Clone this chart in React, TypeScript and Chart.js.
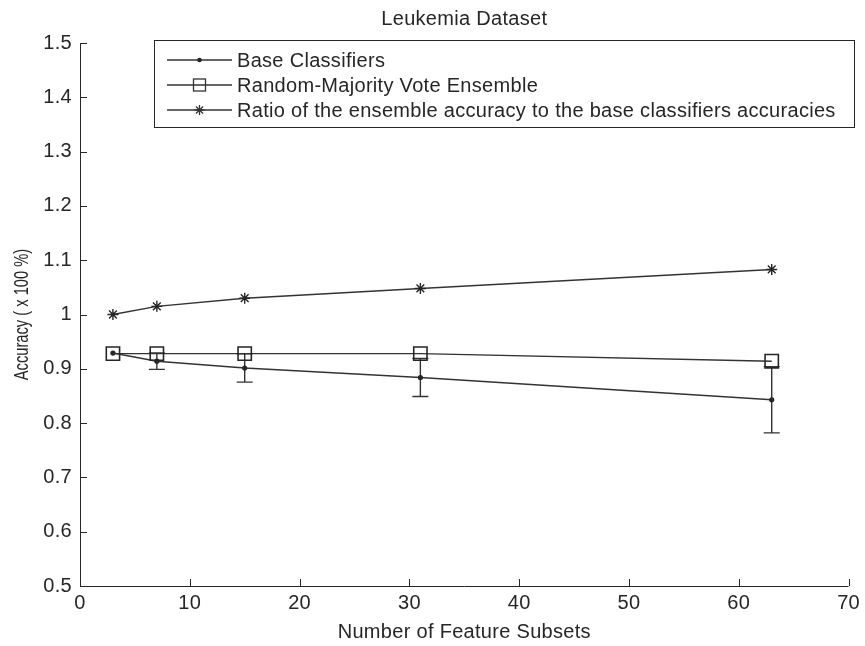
import React, { useEffect, useRef } from 'react';
import { Chart, registerables } from 'chart.js';

Chart.register(...registerables);

// ---------- data ----------
const featureSubsets = [3, 7, 15, 31, 63];
const baseAccuracy = [0.929, 0.914, 0.9015, 0.884, 0.843];
const baseError = [0, 0.015, 0.026, 0.035, 0.061];
const ensembleAccuracy = [0.928, 0.928, 0.928, 0.928, 0.914];
const ratioAccuracy = [1.0, 1.015, 1.03, 1.048, 1.083];
const xTickValues = [0, 10, 20, 30, 40, 50, 60, 70];
const yTickValues = [0.5, 0.6, 0.7, 0.8, 0.9, 1.0, 1.1, 1.2, 1.3, 1.4, 1.5];
const seriesNames = [
  'Base Classifiers',
  'Random-Majority Vote Ensemble',
  'Ratio of the ensemble accuracy to the base classifiers accuracies',
];
const chartTitle = 'Leukemia Dataset';
const xAxisTitle = 'Number of Feature Subsets';
const yAxisTitle = 'Accuracy ( x 100 %)';

// ---------- style ----------
const INK = '#262626';
const LINE = '#333333';
const FONT_FAMILY = '"Liberation Sans", Arial, sans-serif';
const FONT_SIZE = 20;
const SPACING = '0.3px';

function drawStar(ctx: CanvasRenderingContext2D, x: number, y: number, r: number) {
  ctx.beginPath();
  for (let i = 0; i < 4; i++) {
    const a = (i * Math.PI) / 4;
    ctx.moveTo(x - r * Math.cos(a), y - r * Math.sin(a));
    ctx.lineTo(x + r * Math.cos(a), y + r * Math.sin(a));
  }
  ctx.stroke();
}

const decorPlugin = {
  id: 'matlabDecor',
  beforeUpdate(chart: any) {
    (chart.ctx as any).letterSpacing = SPACING;
  },
  beforeDraw(chart: any) {
    const ctx = chart.ctx as CanvasRenderingContext2D;
    (ctx as any).letterSpacing = SPACING;
    ctx.save();
    ctx.fillStyle = '#ffffff';
    ctx.fillRect(0, 0, chart.width, chart.height);
    ctx.restore();
  },
  beforeDatasetsDraw(chart: any) {
    const ctx = chart.ctx as CanvasRenderingContext2D;
    const xs = chart.scales.x;
    const ys = chart.scales.y;
    ctx.save();
    ctx.strokeStyle = LINE;
    ctx.lineWidth = 1.4;
    featureSubsets.forEach((fx, i) => {
      const e = baseError[i];
      if (!e) return;
      const px = xs.getPixelForValue(fx);
      const top = ys.getPixelForValue(baseAccuracy[i] + e);
      const bot = ys.getPixelForValue(baseAccuracy[i] - e);
      ctx.beginPath();
      ctx.moveTo(px, top);
      ctx.lineTo(px, bot);
      ctx.moveTo(px - 8, top);
      ctx.lineTo(px + 8, top);
      ctx.moveTo(px - 8, bot);
      ctx.lineTo(px + 8, bot);
      ctx.stroke();
    });
    ctx.restore();
  },
  afterDraw(chart: any) {
    const ctx = chart.ctx as CanvasRenderingContext2D;
    const { left, right, top, bottom } = chart.chartArea;
    const xs = chart.scales.x;
    const ys = chart.scales.y;
    ctx.save();
    // axes
    ctx.strokeStyle = INK;
    ctx.lineWidth = 1;
    ctx.beginPath();
    ctx.moveTo(Math.round(left) + 0.5, top);
    ctx.lineTo(Math.round(left) + 0.5, Math.round(bottom) + 0.5);
    ctx.lineTo(right, Math.round(bottom) + 0.5);
    ctx.stroke();
    // inward ticks
    ctx.beginPath();
    xTickValues.forEach((v) => {
      const px = Math.round(xs.getPixelForValue(v)) + 0.5;
      ctx.moveTo(px, bottom);
      ctx.lineTo(px, bottom - 7);
    });
    yTickValues.forEach((v) => {
      const py = Math.round(ys.getPixelForValue(v)) + 0.5;
      ctx.moveTo(left, py);
      ctx.lineTo(left + 7, py);
    });
    ctx.stroke();

    // titles
    ctx.fillStyle = INK;
    ctx.font = `${FONT_SIZE}px ${FONT_FAMILY}`;
    (ctx as any).letterSpacing = SPACING;
    ctx.textAlign = 'center';
    ctx.textBaseline = 'middle';
    const cx = (left + right) / 2;
    ctx.fillText(chartTitle, cx, 19);
    ctx.fillText(xAxisTitle, cx, bottom + 46);
    ctx.save();
    (ctx as any).letterSpacing = '0px';
    ctx.font = `14.7px ${FONT_FAMILY}`;
    ctx.translate(23, (top + bottom) / 2);
    ctx.rotate(-Math.PI / 2);
    ctx.scale(1, 1.35);
    ctx.fillText(yAxisTitle, 0, 0);
    ctx.restore();

    // legend
    const lx = left + 74;
    const ly = top - 3;
    const lw = 700;
    const lh = 87;
    ctx.fillStyle = '#ffffff';
    ctx.fillRect(lx, ly, lw, lh);
    ctx.strokeStyle = INK;
    ctx.lineWidth = 1;
    ctx.strokeRect(Math.round(lx) + 0.5, Math.round(ly) + 0.5, lw, lh);
    seriesNames.forEach((name, i) => {
      const ry = ly + 20 + i * 25;
      const x0 = lx + 13;
      const x1 = lx + 78;
      const mx = (x0 + x1) / 2;
      ctx.strokeStyle = LINE;
      ctx.lineWidth = 1.3;
      ctx.beginPath();
      ctx.moveTo(x0, ry);
      ctx.lineTo(x1, ry);
      ctx.stroke();
      if (i === 0) {
        ctx.fillStyle = INK;
        ctx.beginPath();
        ctx.arc(mx, ry, 2.3, 0, Math.PI * 2);
        ctx.fill();
      } else if (i === 1) {
        ctx.strokeRect(mx - 6, ry - 6, 12, 12);
      } else {
        drawStar(ctx, mx, ry, 5);
      }
      ctx.fillStyle = INK;
      ctx.font = `${FONT_SIZE}px ${FONT_FAMILY}`;
      ctx.textAlign = 'left';
      ctx.textBaseline = 'middle';
      ctx.fillText(name, x1 + 5, ry + 1);
    });
    ctx.restore();
  },
};

export default function App() {
  const canvasRef = useRef<HTMLCanvasElement | null>(null);

  useEffect(() => {
    const canvas = canvasRef.current;
    if (!canvas) return;
    const toPoints = (ys: number[]) => featureSubsets.map((x, i) => ({ x, y: ys[i] }));
    const chart = new Chart(canvas, {
      type: 'line',
      data: {
        datasets: [
          {
            label: seriesNames[0],
            data: toPoints(baseAccuracy),
            borderColor: LINE,
            backgroundColor: INK,
            borderWidth: 1.4,
            pointStyle: 'circle',
            pointRadius: 2.6,
            pointBorderWidth: 0,
            pointBackgroundColor: INK,
            tension: 0,
            order: 3,
          },
          {
            label: seriesNames[1],
            data: toPoints(ensembleAccuracy),
            borderColor: LINE,
            backgroundColor: 'transparent',
            borderWidth: 1.4,
            pointStyle: 'rect',
            pointRadius: 9.4,
            pointBorderWidth: 1.6,
            pointBorderColor: INK,
            pointBackgroundColor: 'transparent',
            tension: 0,
            order: 2,
          },
          {
            label: seriesNames[2],
            data: toPoints(ratioAccuracy),
            borderColor: LINE,
            backgroundColor: 'transparent',
            borderWidth: 1.4,
            pointStyle: 'star',
            pointRadius: 5.5,
            pointBorderWidth: 1.4,
            pointBorderColor: INK,
            tension: 0,
            order: 1,
          },
        ],
      },
      options: {
        responsive: false,
        animation: false,
        events: [],
        layout: { padding: { left: 0, right: 16, top: 43, bottom: 0 } },
        plugins: {
          legend: { display: false },
          title: { display: false },
          tooltip: { enabled: false },
        },
        scales: {
          x: {
            type: 'linear',
            min: 0,
            max: 70,
            grid: { display: false, drawTicks: false },
            border: { display: false },
            afterBuildTicks: (scale: any) => {
              scale.ticks = xTickValues.map((v) => ({ value: v }));
            },
            afterFit: (scale: any) => {
              scale.height = 60;
            },
            ticks: {
              color: INK,
              padding: 5,
              maxRotation: 0,
              font: { family: FONT_FAMILY, size: FONT_SIZE },
              callback: (v: any) => String(v),
            },
          },
          y: {
            type: 'linear',
            min: 0.5,
            max: 1.5,
            grid: { display: false, drawTicks: false },
            border: { display: false },
            afterBuildTicks: (scale: any) => {
              scale.ticks = yTickValues.map((v) => ({ value: v }));
            },
            afterFit: (scale: any) => {
              scale.width = 80;
            },
            ticks: {
              color: INK,
              padding: 8,
              font: { family: FONT_FAMILY, size: FONT_SIZE },
              callback: (v: any) => String(Number(Number(v).toFixed(1))),
            },
          },
        },
      },
      plugins: [decorPlugin],
    });
    return () => chart.destroy();
  }, []);

  return (
    <div style={{ position: 'absolute', left: 0, top: 0, width: 865, height: 646, background: '#fff' }}>
      <canvas ref={canvasRef} width={865} height={646} style={{ display: 'block' }} />
    </div>
  );
}
